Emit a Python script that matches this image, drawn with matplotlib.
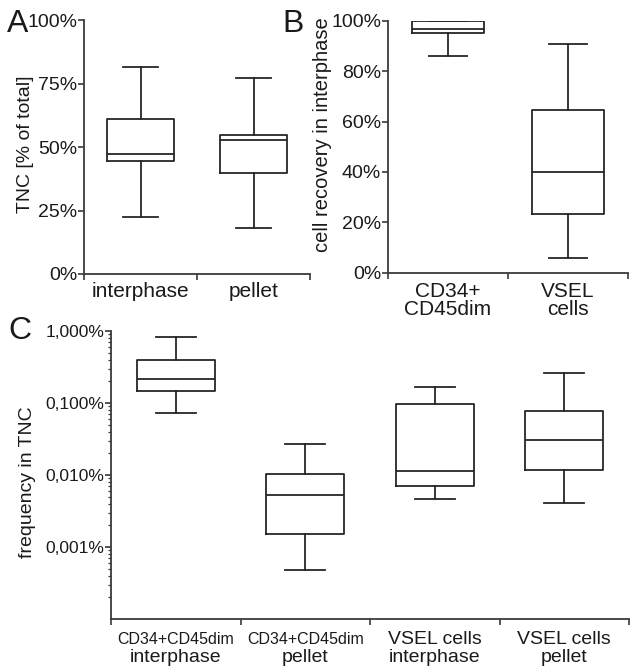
import matplotlib
matplotlib.use('Agg')
import matplotlib.pyplot as plt
import numpy as np

plt.rcParams['font.family'] = ['Liberation Sans', 'DejaVu Sans']

# panel A : TNC distribution (% of total)
a_groups = ['interphase', 'pellet']
a_low = [22.6, 18.0]
a_q1 = [44.5, 39.6]
a_med = [47.1, 52.6]
a_q3 = [60.9, 54.6]
a_high = [81.6, 77.0]

# panel B : cell recovery in interphase (%)
b_groups = ['CD34+\nCD45dim', 'VSEL\ncells']
b_low = [86.1, 5.7]
b_q1 = [95.0, 23.2]
b_med = [96.8, 40.1]
b_q3 = [99.7, 64.6]
b_high = [99.7, 90.9]

# panel C : frequency in TNC (%), log scale
c_line1 = ['CD34+CD45dim', 'CD34+CD45dim', 'VSEL cells', 'VSEL cells']
c_line2 = ['interphase', 'pellet', 'interphase', 'pellet']
c_low = [0.072, 0.000484, 0.00464, 0.00408]
c_q1 = [0.148, 0.0015, 0.00697, 0.0116]
c_med = [0.215, 0.00527, 0.0114, 0.0303]
c_q3 = [0.395, 0.0104, 0.096, 0.0774]
c_high = [0.83, 0.0272, 0.168, 0.258]

LC = '#262626'
SC = '#3a3a3a'
TC = '#1a1a1a'


def boxes(ax, low, q1, med, q3, high):
    stats = []
    for l, a, m, b, h in zip(low, q1, med, q3, high):
        stats.append(dict(whislo=l, q1=a, med=m, q3=b, whishi=h))
    lp = dict(color=LC, linewidth=1.3)
    ax.bxp(stats, positions=np.arange(len(stats)), widths=0.6, capwidths=0.31,
           showfliers=False, boxprops=lp, medianprops=lp, whiskerprops=lp,
           capprops=lp, manage_ticks=False)


def style(ax, n, lsize):
    for s in ['top', 'right']:
        ax.spines[s].set_visible(False)
    for s in ['left', 'bottom']:
        ax.spines[s].set_color(SC)
        ax.spines[s].set_linewidth(1.3)
    ax.set_xlim(-0.5, n - 0.5)
    ax.set_xticks(np.arange(n + 1) - 0.5)
    ax.set_xticklabels([])
    ax.tick_params(axis='both', which='major', length=4, width=1.2,
                   color=SC, labelcolor=TC, labelsize=lsize, pad=1)
    ax.tick_params(axis='x', which='minor', length=0, labelcolor=TC)


fig = plt.figure(figsize=(6.3, 6.7), dpi=100)

# --- A
axA = fig.add_axes([84 / 630, (670 - 274) / 670, 226 / 630, 254 / 670])
boxes(axA, a_low, a_q1, a_med, a_q3, a_high)
style(axA, 2, 14)
axA.set_ylim(0, 100)
axA.set_yticks([0, 25, 50, 75, 100])
axA.set_yticklabels(['0%', '25%', '50%', '75%', '100%'])
axA.set_xticks(np.arange(2), minor=True)
axA.set_xticklabels(a_groups, minor=True, fontsize=15)
axA.tick_params(axis='x', which='minor', pad=6)
axA.set_ylabel('TNC [% of total]', fontsize=14, color=TC)
axA.yaxis.set_label_coords(-0.22, 0.512)

# --- B
axB = fig.add_axes([388 / 630, (670 - 272.7) / 670, 240 / 630, 252 / 670])
boxes(axB, b_low, b_q1, b_med, b_q3, b_high)
style(axB, 2, 14)
axB.set_ylim(0, 100)
axB.set_yticks([0, 20, 40, 60, 80, 100])
axB.set_yticklabels(['0%', '20%', '40%', '60%', '80%', '100%'])
axB.set_xticks(np.arange(2), minor=True)
axB.set_xticklabels(b_groups, minor=True, fontsize=15)
for t in axB.get_xticklabels(minor=True):
    t.set_linespacing(0.9)
axB.tick_params(axis='x', which='minor', pad=7)
axB.set_ylabel('cell recovery in interphase', fontsize=14.5, color=TC)
axB.yaxis.set_label_coords(-0.232, 0.546)

# --- C
axC = fig.add_axes([111 / 630, (670 - 619) / 670, 518 / 630, 288 / 670])
axC.set_yscale('log')
boxes(axC, c_low, c_q1, c_med, c_q3, c_high)
style(axC, 4, 12.5)
axC.set_ylim(1e-4, 1)
axC.set_yticks([1, 0.1, 0.01, 0.001])
axC.set_yticklabels(['1,000%', '0,100%', '0,010%', '0,001%'])
axC.tick_params(axis='y', which='minor', length=2.5, width=0.9, color=SC)
axC.tick_params(axis='x', which='minor', length=0)
axC.set_ylabel('frequency in TNC', fontsize=14, color=TC)
axC.yaxis.set_label_coords(-0.145, 0.476)
for i in range(4):
    # the CD34 lines are squeezed in the original figure
    fs = 11.5 if c_line1[i].startswith('CD') else 14
    axC.annotate(c_line1[i], xy=(i, 0), xycoords=('data', 'axes fraction'),
                 xytext=(0, -18), textcoords='offset points', ha='center',
                 va='baseline', fontsize=fs, color=TC)
    axC.annotate(c_line2[i], xy=(i, 0), xycoords=('data', 'axes fraction'),
                 xytext=(0, -31), textcoords='offset points', ha='center',
                 va='baseline', fontsize=14, color=TC)

# panel letters
fig.text(7 / 630, 1 - 32 / 670, 'A', fontsize=23, va='baseline', color=TC)
fig.text(282 / 630, 1 - 32 / 670, 'B', fontsize=23, va='baseline', color=TC)
fig.text(8 / 630, 1 - 339 / 670, 'C', fontsize=23, va='baseline', color=TC)

fig.savefig('out.png', dpi=100)
